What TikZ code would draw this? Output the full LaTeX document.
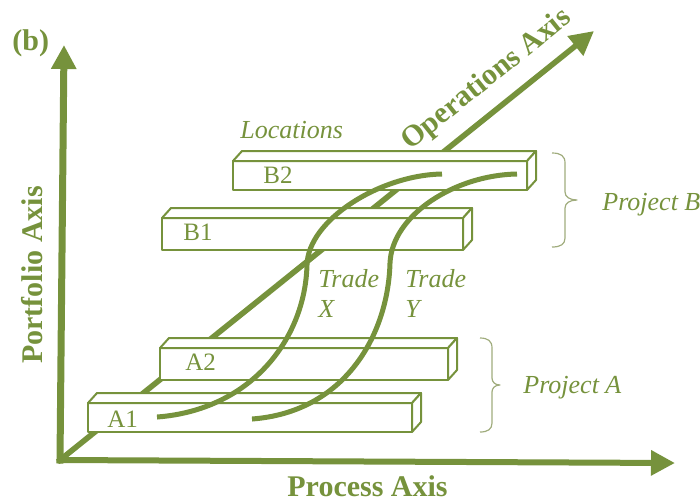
\documentclass[tikz,border=0pt]{standalone}
\usepackage{fontspec}
\setmainfont{Liberation Serif}
\usetikzlibrary{arrows.meta}
\definecolor{leaf}{RGB}{118,146,60}
\definecolor{hint}{RGB}{160,172,125}

\begin{document}
\begin{tikzpicture}[x=0.5pt, y=-0.5pt, line join=round,
  axis/.style = {draw=leaf, line cap=rect, -{Triangle[length=12pt, width=12pt]}},
  bar/.style = {draw=leaf, line width=1pt, fill=white},
  trade/.style = {draw=leaf, line width=2.5pt},
  group/.style = {draw=hint, line width=0.6pt},
  head/.style = {text=leaf, font=\fontsize{15}{17}\selectfont\bfseries, inner sep=0pt},
  note/.style = {text=leaf, font=\fontsize{13}{15}\selectfont\itshape, inner sep=0pt},
  cell/.style = {text=leaf, font=\fontsize{12.5}{15}\selectfont, inner sep=0pt}]
\useasboundingbox (0,0) rectangle (700,500);

% axes
\coordinate (o) at (60,460);
\coordinate (p) at (64,45);
\coordinate (q) at (675,463);
\coordinate (r) at (594,31);
\draw[axis, line width=3.5pt] (o) -- (p);
\draw[axis, line width=3pt] (o) -- (q);
\draw[axis, line width=2.8pt] (o) -- (r);

% location bars, back to front
\draw[bar] (233,161) rectangle (527,190);
\draw[bar] (233,161) -- ++(9,-10) -- ++(294,0) -- ++(-9,10) -- cycle;
\draw[bar] (527,161) -- ++(9,-10) -- ++(0,29) -- ++(-9,10) -- cycle;

\draw[bar] (162,218) rectangle (463,250);
\draw[bar] (162,218) -- ++(9,-10) -- ++(301,0) -- ++(-9,10) -- cycle;
\draw[bar] (463,218) -- ++(9,-10) -- ++(0,32) -- ++(-9,10) -- cycle;

\draw[bar] (160,348) rectangle (448,380);
\draw[bar] (160,348) -- ++(9,-10) -- ++(288,0) -- ++(-9,10) -- cycle;
\draw[bar] (448,348) -- ++(9,-10) -- ++(0,32) -- ++(-9,10) -- cycle;

\draw[bar] (88,403) rectangle (412,432);
\draw[bar] (88,403) -- ++(9,-10) -- ++(324,0) -- ++(-9,10) -- cycle;
\draw[bar] (412,403) -- ++(9,-10) -- ++(0,29) -- ++(-9,10) -- cycle;

\node[cell, anchor=base west] (b2) at (263,183) {B2};
\node[cell, anchor=base west] (b1) at (183,240) {B1};
\node[cell, anchor=base west] (a2) at (185,370) {A2};
\node[cell, anchor=base west] (a1) at (107,427) {A1};

% trades
\coordinate (x0) at (157,417);
\coordinate (x1) at (307,265);
\coordinate (x2) at (442,174);
\coordinate (y0) at (252,419);
\coordinate (y1) at (390,263);
\coordinate (y2) at (517,174);
\draw[trade] (x0) .. controls (250,410) and (305,340) .. (x1) .. controls (308,220) and (380,175) .. (x2);
\draw[trade] (y0) .. controls (345,412) and (388,335) .. (y1) .. controls (392,215) and (455,175) .. (y2);

% project brackets
\draw[group] (552,153) .. controls (561,153) and (565,156) .. (565,163) -- (565,192)
  .. controls (565,197) and (570,200) .. (577,200) .. controls (570,200) and (565,203) .. (565,208)
  -- (565,238) .. controls (565,244) and (561,247) .. (552,247);
\draw[group] (480,338) .. controls (488,338) and (492,341) .. (492,348) -- (492,378)
  .. controls (492,382) and (495,385) .. (500,385) .. controls (495,385) and (492,388) .. (492,392)
  -- (492,423) .. controls (492,429) and (488,432) .. (480,432);

% labels
\node[head, anchor=base west] (tag) at (12,50) {(b)};
\node[head, rotate=90] (pf) at (32,275) {Portfolio Axis};
\node[head, anchor=base west] (pr) at (287,496) {Process Axis};
\node[head, rotate=38.8] (op) at (487,80) {Operations Axis};
\node[note, anchor=base west] (loc) at (240,138) {Locations};
\node[note, align=left, anchor=north west] (tx) at (318,269) {Trade\\X};
\node[note, align=left, anchor=north west] (ty) at (405,269) {Trade\\Y};
\node[note, anchor=base west] (pb) at (602,210) {Project B};
\node[note, anchor=base west] (pa) at (523,393) {Project A};
\end{tikzpicture}
\end{document}
